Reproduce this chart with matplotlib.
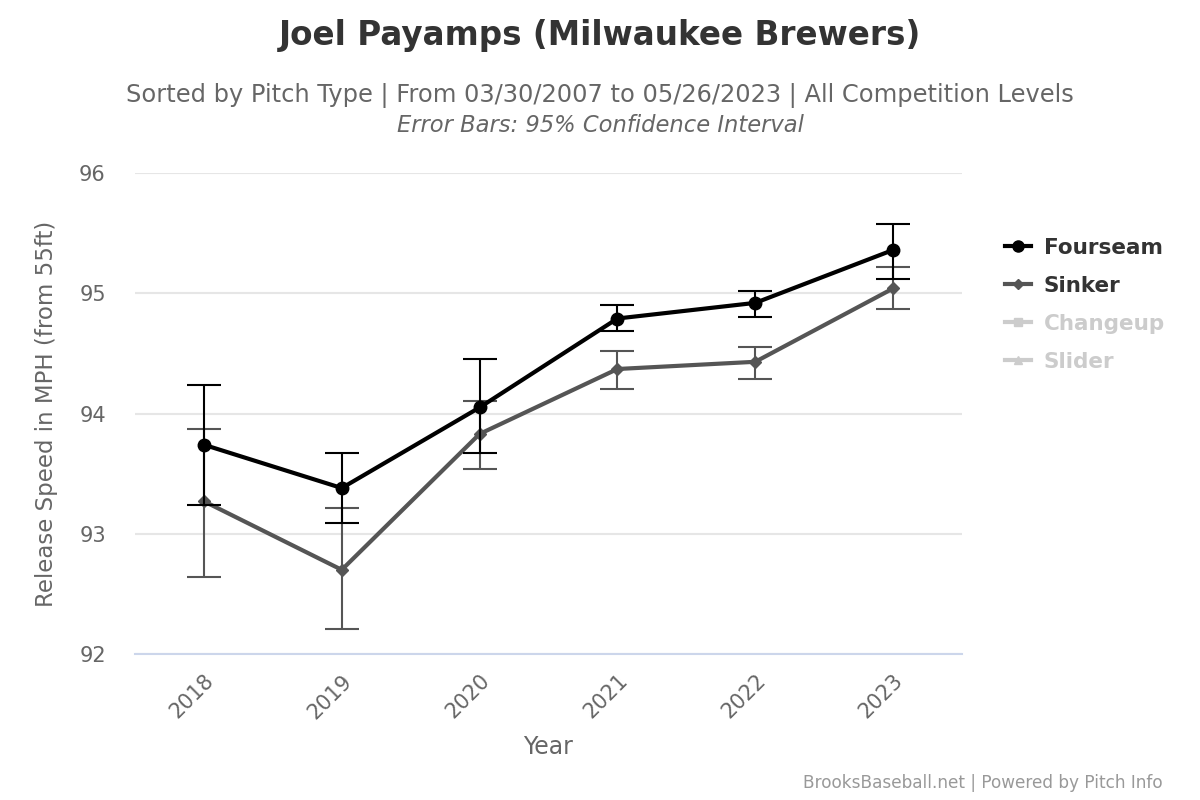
import numpy as np
import matplotlib
matplotlib.use("Agg")
import matplotlib.pyplot as plt
from matplotlib.lines import Line2D

years = [2018, 2019, 2020, 2021, 2022, 2023]

fourseam = [93.74, 93.38, 94.05, 94.79, 94.92, 95.36]
fourseam_hi = [94.24, 93.67, 94.45, 94.90, 95.02, 95.58]
fourseam_lo = [93.24, 93.09, 93.67, 94.69, 94.80, 95.12]

sinker = [93.27, 92.70, 93.83, 94.37, 94.43, 95.04]
sinker_hi = [93.87, 93.21, 94.10, 94.52, 94.55, 95.22]
sinker_lo = [92.64, 92.21, 93.54, 94.20, 94.29, 94.87]

legend_names = ["Fourseam", "Sinker", "Changeup", "Slider"]

plt.rcParams['font.family'] = ['DejaVu Sans']

fig = plt.figure(figsize=(12, 8), dpi=100)
ax = fig.add_axes([0.1125, 0.1825, 0.6892, 0.60125])

x = np.arange(len(years))

def draw(vals, hi, lo, color, marker, ms, z):
  vals = np.array(vals)
  yerr = [vals - np.array(lo), np.array(hi) - vals]
  ax.errorbar(x, vals, yerr=yerr, fmt='none', ecolor=color, elinewidth=1.5,
              capsize=12, capthick=1.5, zorder=z)
  ax.plot(x, vals, color=color, lw=3, marker=marker, ms=ms, zorder=z + 1)

draw(sinker, sinker_hi, sinker_lo, '#555555', 'D', 6, 3)
draw(fourseam, fourseam_hi, fourseam_lo, '#000000', 'o', 9, 5)

ax.set_xlim(-0.5, len(years) - 0.5)
ax.set_ylim(92, 96)
ax.set_yticks([92, 93, 94, 95, 96])
ax.set_xticks(x)
ax.set_xticklabels([str(y) for y in years], rotation=45, ha='right',
                   rotation_mode='anchor')
ax.grid(axis='y', color='#e6e6e6', lw=1.5)
ax.set_axisbelow(True)
for s in ['top', 'right', 'left']:
  ax.spines[s].set_visible(False)
ax.spines['bottom'].set_color('#ccd6eb')
ax.spines['bottom'].set_linewidth(1.5)
ax.tick_params(axis='both', length=0, labelsize=15, colors='#666666')
ax.tick_params(axis='y', pad=21)
ax.tick_params(axis='x', pad=12)

ax.set_xlabel('Year', fontsize=17, color='#666666', labelpad=9)
ax.set_ylabel('Release Speed in MPH (from 55ft)', fontsize=16.5,
              color='#666666', labelpad=15)

fig.text(0.5, 0.955, 'Joel Payamps (Milwaukee Brewers)', ha='center',
         va='center', fontsize=23.5, fontweight='bold', color='#333333')
fig.text(0.5, 0.88, 'Sorted by Pitch Type | From 03/30/2007 to 05/26/2023 | '
         'All Competition Levels', ha='center', va='center', fontsize=17.4,
         color='#666666')
fig.text(0.5, 0.843, 'Error Bars: 95% Confidence Interval', ha='center',
         va='center', fontsize=16.3, style='italic', color='#666666')
fig.text(0.969, 0.021, 'BrooksBaseball.net | Powered by Pitch Info',
         ha='right', va='center', fontsize=12.2, color='#999999')

handles = [
  Line2D([], [], color='#000000', lw=3, marker='o', ms=8),
  Line2D([], [], color='#555555', lw=3, marker='D', ms=5),
  Line2D([], [], color='#cccccc', lw=3, marker='s', ms=6),
  Line2D([], [], color='#cccccc', lw=3, marker='^', ms=6),
]
leg = fig.legend(handles, legend_names, loc='upper left',
                 bbox_to_anchor=(0.8285, 0.716), frameon=False,
                 prop={'size': 15.5, 'weight': 'bold'}, handlelength=1.2,
                 labelspacing=0.83, handletextpad=0.6, borderpad=0)
for t, c in zip(leg.get_texts(), ['#333333', '#333333', '#cccccc', '#cccccc']):
  t.set_color(c)

fig.savefig('out.png', dpi=100)
